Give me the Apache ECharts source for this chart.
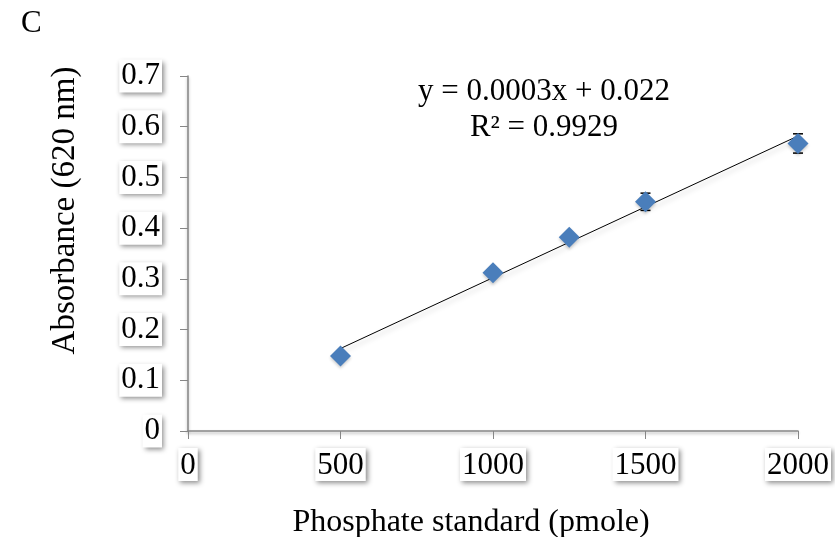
<!DOCTYPE html>
<html style="height:100%;">
<head>
  <meta charset="utf-8">
  <script src="https://cdn.jsdelivr.net/npm/echarts@6/dist/echarts.min.js"></script>
  <style>
    body { margin: 0; background: #fff; }
    #chart { width: 835px; height: 537px; }
  </style>
</head>
<body>
  <div id="chart"></div>
  <script>
    // phosphate standard (pmole) vs absorbance at 620 nm
    var pmole = [500, 1000, 1250, 1500, 2000];
    var absorbance = [0.148, 0.312, 0.382, 0.452, 0.567];
    var errors = [0.004, 0.006, 0.006, 0.017, 0.019];
    var yTicks = [0, 0.1, 0.2, 0.3, 0.4, 0.5, 0.6, 0.7];
    var xTicks = [0, 500, 1000, 1500, 2000];
    var eqText = 'y = 0.0003x + 0.022\nR² = 0.9929';

    // least squares line through the points
    var n = pmole.length, mx = 0, my = 0;
    for (var i = 0; i < n; i++) { mx += pmole[i] / n; my += absorbance[i] / n; }
    var sxy = 0, sxx = 0;
    for (var i = 0; i < n; i++) {
      sxy += (pmole[i] - mx) * (absorbance[i] - my);
      sxx += (pmole[i] - mx) * (pmole[i] - mx);
    }
    var slope = sxy / sxx, icpt = my - slope * mx;
    var xFirst = pmole[0], xLast = pmole[n - 1];
    var trend = [[xFirst, icpt + slope * xFirst], [xLast, icpt + slope * xLast]];

    var font = '"Liberation Serif", "Times New Roman", serif';
    var fs = 31;
    var boxLabel = {
      color: '#000',
      fontFamily: font,
      fontSize: fs,
      backgroundColor: '#fff',
      padding: [2, 2, 0, 2],
      shadowColor: 'rgba(0,0,0,0.45)',
      shadowBlur: 5,
      shadowOffsetX: 2,
      shadowOffsetY: 2
    };
    var axisLine = { lineStyle: { color: '#868686', width: 1.5, shadowColor: 'rgba(0,0,0,0.3)', shadowBlur: 3, shadowOffsetY: 2 } };

    var chart = echarts.init(document.getElementById('chart'));
    chart.setOption({
      backgroundColor: '#fff',
      animation: false,
      grid: { left: 188, right: 37, top: 76, bottom: 106, outerBoundsMode: 'none', containLabel: false },
      xAxis: {
        type: 'value', min: 0, max: 2000, interval: 500,
        name: 'Phosphate standard (pmole)', nameLocation: 'middle', nameGap: 76,
        nameTextStyle: { color: '#000', fontFamily: font, fontSize: 32, padding: [0, 44, 0, 0] },
        axisLine: axisLine,
        axisTick: { show: true, length: 8, lineStyle: { color: '#868686' } },
        axisLabel: Object.assign({ margin: 17, formatter: function (v) { return xTicks.indexOf(v) >= 0 ? String(v) : ''; } }, boxLabel),
        splitLine: { show: false }
      },
      yAxis: {
        type: 'value', min: 0, max: 0.7, interval: 0.1,
        name: 'Absorbance (620 nm)', nameLocation: 'middle', nameGap: 106, nameRotate: 90,
        nameTextStyle: { color: '#000', fontFamily: font, fontSize: 33, padding: [0, 0, 0, 86] },
        axisLine: axisLine,
        axisTick: { show: true, length: 8, lineStyle: { color: '#868686' } },
        axisLabel: Object.assign({ margin: 26, formatter: function (v) {
          var t = yTicks.filter(function (k) { return Math.abs(k - v) < 1e-9; });
          return t.length ? String(t[0]) : '';
        } }, boxLabel),
        splitLine: { show: false }
      },
      series: [
        {
          type: 'line',
          data: trend,
          symbol: 'none',
          z: 3,
          lineStyle: { color: '#000', width: 1, shadowColor: 'rgba(0,0,0,0.25)', shadowBlur: 5, shadowOffsetY: 4 }
        },
        {
          type: 'custom',
          z: 4,
          data: pmole.map(function (x, i) { return [x, absorbance[i] - errors[i], absorbance[i] + errors[i]]; }),
          renderItem: function (params, api) {
            var lo = api.coord([api.value(0), api.value(1)]);
            var hi = api.coord([api.value(0), api.value(2)]);
            var w = 5;
            var st = { stroke: '#000', lineWidth: 1.5 };
            return {
              type: 'group',
              children: [
                { type: 'line', shape: { x1: lo[0], y1: lo[1], x2: hi[0], y2: hi[1] }, style: st },
                { type: 'line', shape: { x1: lo[0] - w, y1: lo[1], x2: lo[0] + w, y2: lo[1] }, style: st },
                { type: 'line', shape: { x1: hi[0] - w, y1: hi[1], x2: hi[0] + w, y2: hi[1] }, style: st }
              ]
            };
          }
        },
        {
          type: 'scatter',
          z: 5,
          data: pmole.map(function (x, i) { return [x, absorbance[i]]; }),
          symbol: 'diamond',
          symbolSize: [21, 21],
          itemStyle: { color: '#4a7ebb', opacity: 1, shadowColor: 'rgba(0,0,0,0.2)', shadowBlur: 3, shadowOffsetY: 2 }
        }
      ],
      graphic: [
        { type: 'text', left: 21, top: 8, style: { text: 'C', fontFamily: font, fontSize: fs, fill: '#000' } },
        { type: 'text', x: 544, y: 74, style: { text: eqText, fontFamily: font, fontSize: fs, lineHeight: 36, fill: '#000', align: 'center' } }
      ]
    });
  </script>
</body>
</html>
